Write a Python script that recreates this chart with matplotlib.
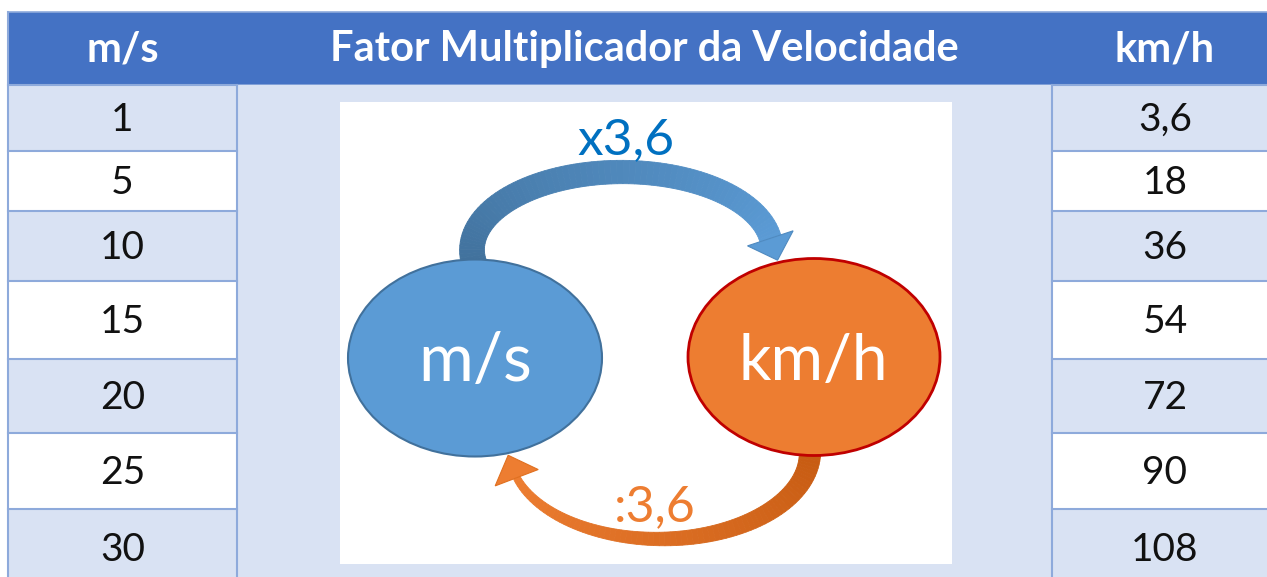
import numpy as np
import matplotlib.pyplot as plt
from matplotlib.patches import Rectangle, Ellipse, Polygon
from matplotlib.colors import to_rgb

plt.rcParams['font.family'] = ['Lato', 'DejaVu Sans']

# table content
headers = ["m/s", "Fator Multiplicador da Velocidade", "km/h"]
ms_values = [1, 5, 10, 15, 20, 25, 30]
kmh_values = [3.6, 18, 36, 54, 72, 90, 108]
factor_up = "x3,6"
factor_down = ":3,6"
bubble_left = "m/s"
bubble_right = "km/h"

# layout in pixels (y grows downward)
W, H = 1267, 577
col_edges = [8, 237, 1052, 1278]
header_top, header_bot = 12, 85
row_edges = [85, 151, 211, 281, 359, 433, 509, 587]

HEADER = "#4472C4"
LIGHT = "#D9E2F3"
GRID = "#8EAADB"


def fmt(v):
    s = f"{v:g}"
    return s.replace(".", ",")


def band(ax, cx, cy, a, b, sgn, t0, t1, w0, w1, c0, c1, n=80):
    # curved tapering band along an elliptical arc, colour goes c0 -> c1
    ts = np.linspace(t0, t1, n)
    xs = cx + a * np.cos(ts)
    ys = cy - sgn * b * np.sin(ts)
    dx = np.gradient(xs)
    dy = np.gradient(ys)
    L = np.hypot(dx, dy)
    nx, ny = -dy / L, dx / L
    ws = np.linspace(w0, w1, n) / 2
    ox, oy = xs + nx * ws, ys + ny * ws
    ix, iy = xs - nx * ws, ys - ny * ws
    c0, c1 = np.array(to_rgb(c0)), np.array(to_rgb(c1))
    for i in range(n - 1):
        f = i / (n - 2)
        col = c0 * (1 - f) + c1 * f
        quad = [(ox[i], oy[i]), (ox[i + 1], oy[i + 1]),
                (ix[i + 1], iy[i + 1]), (ix[i], iy[i])]
        ax.add_patch(Polygon(quad, closed=True, facecolor=col,
                             edgecolor=col, lw=0.6, zorder=3))
    # end point and direction of travel
    ux, uy = xs[-1] - xs[-2], ys[-1] - ys[-2]
    return xs[-1], ys[-1], ux, uy


def head(ax, x, y, ux, uy, half, length, color, edge):
    u = np.hypot(ux, uy)
    ux, uy = ux / u, uy / u
    px, py = -uy, ux
    pts = [(x + px * half, y + py * half), (x + ux * length, y + uy * length),
           (x - px * half, y - py * half)]
    ax.add_patch(Polygon(pts, closed=True, facecolor=color, edgecolor=edge,
                         lw=0.8, zorder=3))


fig = plt.figure(figsize=(W / 100, H / 100), dpi=100)
ax = fig.add_axes([0, 0, 1, 1])
ax.set_xlim(0, W)
ax.set_ylim(H, 0)
ax.axis("off")

# header
ax.add_patch(Rectangle((col_edges[0], header_top), col_edges[-1] - col_edges[0],
                       header_bot - header_top, facecolor=HEADER,
                       edgecolor=GRID, lw=1.2, zorder=1))
for i, h in enumerate(headers):
    xc = (col_edges[i] + col_edges[i + 1]) / 2
    ax.text(xc, (header_top + header_bot) / 2 + 1, h, color="white",
            fontsize=30, fontweight="bold", ha="center", va="center", zorder=5)

# middle column background
ax.add_patch(Rectangle((col_edges[1], row_edges[0]), col_edges[2] - col_edges[1],
                       row_edges[-1] - row_edges[0], facecolor=LIGHT,
                       edgecolor="none", zorder=1))

# side columns rows
for r in range(len(ms_values)):
    y0, y1 = row_edges[r], row_edges[r + 1]
    fc = LIGHT if r % 2 == 0 else "white"
    for c, txt in [(0, str(ms_values[r])), (2, fmt(kmh_values[r]))]:
        x0, x1 = col_edges[c], col_edges[c + 1]
        ax.add_patch(Rectangle((x0, y0), x1 - x0, y1 - y0, facecolor=fc,
                               edgecolor="none", zorder=1))
        ax.text((x0 + x1) / 2, (y0 + y1) / 2 + 2, txt, fontsize=28,
                color="#111111", ha="center", va="center", zorder=5)
        ax.plot([x0, x1], [y0, y0], color=GRID, lw=1.5, zorder=2)

# vertical grid lines
ax.plot([col_edges[0]] * 2, [header_top, H], color=GRID, lw=1.5, zorder=2)
ax.plot([col_edges[1]] * 2, [header_bot, H], color=GRID, lw=1.5, zorder=2)
ax.plot([col_edges[2]] * 2, [header_bot, H], color=GRID, lw=1.5, zorder=2)

# white picture box
ax.add_patch(Rectangle((340, 102), 612, 462, facecolor="white",
                       edgecolor="none", zorder=2))

# top arrow (m/s -> km/h)
x, y, ux, uy = band(ax, 622, 250, 150, 78, 1, np.pi + 0.2, 0.15,
                    25, 22, "#41719C", "#5B9BD5")
head(ax, x, y, ux, uy, 24, 23, "#5B9BD5", "#4F8AC0")

# bottom arrow (km/h -> m/s)
x, y, ux, uy = band(ax, 660, 452, 150, 87, -1, -0.1, np.pi - 0.30,
                    22, 7, "#C55A11", "#ED7D31")
head(ax, x, y, -0.38, -1.0, 23, 24, "#ED7D31", "#E07020")

# bubbles
ax.add_patch(Ellipse((475, 358), 254, 197, facecolor="#5B9BD5",
                     edgecolor="#41719C", lw=1.5, zorder=4))
ax.add_patch(Ellipse((814, 357), 252, 197, facecolor="#ED7D31",
                     edgecolor="#C00000", lw=2.0, zorder=4))
ax.text(475, 362, bubble_left, color="white", fontsize=48,
        ha="center", va="center", zorder=5)
ax.text(813, 362, bubble_right, color="white", fontsize=46,
        ha="center", va="center", zorder=5)

# factor labels
ax.text(626, 140, factor_up, color="#0070C0", fontsize=37,
        ha="center", va="center", zorder=5)
ax.text(655, 507, factor_down, color="#ED7D31", fontsize=36,
        ha="center", va="center", zorder=5)

fig.savefig("out.png", dpi=100, facecolor="white")
